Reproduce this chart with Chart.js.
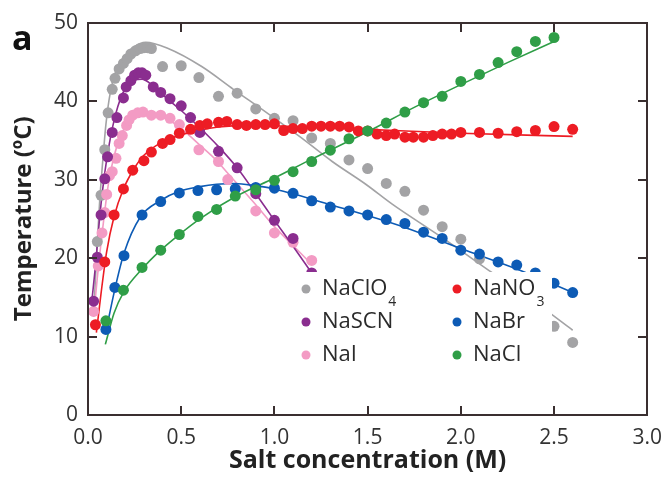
<!DOCTYPE html>
<html>
<head>
<meta charset="utf-8">
<script src="https://cdn.jsdelivr.net/npm/chart.js@4.4.0/dist/chart.umd.min.js"></script>
<style>
  html, body { margin: 0; padding: 0; background: #fff; }
  #wrap { width: 672px; height: 477px; position: relative; }
</style>
</head>
<body>
<div id="wrap"><canvas id="chart"></canvas></div>
<script>
// === Datos: [concentracion (M), temperatura (C)] ===
const xTicks = [0, 0.5, 1.0, 1.5, 2.0, 2.5, 3.0];
const yTicks = [0, 10, 20, 30, 40, 50];

const naclo4Pts = [[0.05,22.1],[0.07,28.0],[0.09,33.8],[0.108,38.5],[0.13,41.5],[0.145,42.9],[0.167,44.1],[0.19,44.8],
  [0.21,45.4],[0.23,46.0],[0.255,46.4],[0.28,46.7],[0.30,46.8],[0.32,46.8],[0.34,46.7],[0.40,44.4],[0.50,44.5],
  [0.595,43.0],[0.70,40.6],[0.80,41.0],[0.90,39.0],[1.0,37.8],[1.10,37.5],[1.20,35.3],[1.30,34.6],[1.40,32.5],
  [1.50,31.4],[1.60,29.5],[1.70,28.5],[1.80,26.1],[1.90,24.0],[2.0,22.4],[2.10,19.9],[2.50,11.3],[2.60,9.25]];
const naclo4Fit = [[0.035,15],[0.05,22],[0.062,27],[0.073,30.6],[0.084,33.8],[0.096,37],[0.119,41],[0.149,43.8],
  [0.193,45.6],[0.246,46.9],[0.31,47.5],[0.43,46.7],[0.61,44.4],[0.78,41.5],[0.96,38.5],[1.14,35.4],[1.31,32.3],
  [1.49,29.4],[1.63,26.9],[1.9,22.6],[2.17,18.1],[2.46,13.3],[2.6,10.8]];

const nascnPts = [[0.03,14.5],[0.05,20.1],[0.07,25.5],[0.09,30.1],[0.105,32.9],[0.13,36.0],[0.155,37.9],[0.19,40.4],
  [0.205,41.8],[0.23,42.6],[0.25,43.3],[0.27,43.6],[0.29,43.6],[0.31,43.3],[0.35,41.8],[0.39,41.1],[0.44,40.3],
  [0.50,39.4],[0.55,37.9],[0.60,36.0],[0.70,33.6],[0.80,31.5],[0.90,28.2],[1.0,24.8],[1.10,22.5],[1.20,18.1]];
const nascnFit = [[0.02,14.4],[0.04,19],[0.06,24.5],[0.08,29],[0.1,32.5],[0.13,36.5],[0.16,39.3],[0.2,41.6],
  [0.25,42.7],[0.29,42.8],[0.35,41.9],[0.42,40.4],[0.5,38.8],[0.6,36.6],[0.7,34.2],[0.8,31.5],[0.9,28.2],
  [1.0,24.8],[1.1,21.5],[1.2,18.1]];

const naiPts = [[0.03,13.2],[0.055,19.0],[0.075,23.2],[0.09,25.8],[0.10,28.1],[0.115,30.5],[0.13,31.0],[0.15,32.7],
  [0.167,34.6],[0.184,35.6],[0.207,36.9],[0.22,37.6],[0.24,38.2],[0.267,38.5],[0.295,38.6],[0.34,38.2],[0.39,38.2],
  [0.44,37.8],[0.49,37.0],[0.595,33.8],[0.70,32.3],[0.75,30.0],[0.90,26.0],[1.0,23.2],[1.10,22.0],[1.20,19.7]];
const naiFit = [[0.03,12.5],[0.05,17.5],[0.07,22],[0.09,26],[0.11,29.5],[0.14,33],[0.18,35.8],[0.246,38.1],
  [0.334,38.4],[0.44,37.5],[0.51,36.3],[0.6,34.4],[0.687,32.5],[0.75,30.8],[0.9,26.8],[1.0,24.0],[1.1,21.6],[1.2,19.2]];

const nano3Pts = [[0.04,11.5],[0.09,19.5],[0.14,25.5],[0.19,28.8],[0.24,31.2],[0.30,32.4],[0.34,33.5],[0.40,34.6],
  [0.44,35.1],[0.49,35.9],[0.55,36.4],[0.60,36.9],[0.64,37.1],[0.70,37.3],[0.745,37.4],[0.80,37.0],[0.85,36.9],
  [0.90,37.0],[0.95,37.0],[1.0,37.1],[1.05,36.25],[1.10,36.5],[1.15,36.5],[1.20,36.8],[1.25,36.8],[1.30,36.8],
  [1.35,36.8],[1.40,36.7],[1.45,36.2],[1.50,36.2],[1.55,35.8],[1.60,35.6],[1.645,35.8],[1.70,35.4],[1.745,35.4],
  [1.80,35.4],[1.85,35.6],[1.90,35.8],[1.95,35.8],[2.0,36.0],[2.10,36.0],[2.20,35.9],[2.30,36.1],[2.40,36.25],
  [2.50,36.75],[2.60,36.4]];
const nano3Fit = [[0.045,10.5],[0.07,15.5],[0.1,20.8],[0.14,25.3],[0.19,28.8],[0.25,31.5],[0.3,33.1],[0.4,34.8],
  [0.5,35.7],[0.6,36.3],[0.7,36.7],[0.85,36.9],[1.0,36.85],[1.5,36.4],[2.0,35.9],[2.6,35.5]];

const nabrPts = [[0.096,10.9],[0.144,16.25],[0.193,20.3],[0.29,25.5],[0.39,27.2],[0.49,28.3],[0.59,28.6],[0.69,28.7],
  [0.79,28.8],[0.90,29.0],[1.0,28.9],[1.10,28.25],[1.20,27.3],[1.30,26.5],[1.40,26.0],[1.50,25.5],[1.60,24.9],
  [1.70,24.4],[1.80,23.3],[1.90,22.5],[2.0,21.0],[2.10,20.5],[2.20,19.5],[2.30,19.1],[2.40,18.1],[2.50,16.8],[2.60,15.6]];
const nabrFit = [[0.096,10.6],[0.14,15.6],[0.193,20.6],[0.28,25.2],[0.387,27.3],[0.49,28.5],[0.6,29.1],[0.69,29.4],
  [0.79,29.5],[0.9,29.2],[1.0,28.8],[1.3,26.8],[1.7,23.9],[2.0,21.2],[2.3,18.6],[2.6,15.6]];

const naclPts = [[0.096,12.0],[0.19,15.9],[0.29,18.8],[0.39,21.0],[0.49,23.0],[0.59,25.3],[0.69,26.2],[0.79,27.9],
  [0.90,28.7],[1.0,29.9],[1.10,31.0],[1.20,32.3],[1.30,33.75],[1.40,35.2],[1.50,36.2],[1.60,37.2],[1.70,38.6],
  [1.80,39.8],[1.90,40.6],[2.0,42.5],[2.10,43.4],[2.20,44.9],[2.30,46.3],[2.40,47.6],[2.50,48.1]];
const naclFit = [[0.093,9.0],[0.14,13],[0.19,15.6],[0.29,18.6],[0.39,21.0],[0.49,23.0],[0.6,25.0],[0.79,27.8],
  [1.0,30.2],[1.2,32.6],[1.5,36.1],[1.75,39.2],[2.0,42.1],[2.25,44.9],[2.5,47.6]];

// Series: nombre, color, puntos, ajuste
const series = [
  { label: "NaCl",   sub: "",  color: "#2f9e47", pts: naclPts,   fit: naclFit },
  { label: "NaBr",   sub: "",  color: "#0d5bb5", pts: nabrPts,   fit: nabrFit },
  { label: "NaNO",   sub: "3", color: "#ed1c24", pts: nano3Pts,  fit: nano3Fit },
  { label: "NaSCN",  sub: "",  color: "#8a2d8f", pts: nascnPts,  fit: nascnFit },
  { label: "NaI",    sub: "",  color: "#f39bc4", pts: naiPts,    fit: naiFit },
  { label: "NaClO",  sub: "4", color: "#a3a3a5", pts: naclo4Pts, fit: naclo4Fit }
];
const legendOrder = ["NaClO", "NaSCN", "NaI", "NaNO", "NaBr", "NaCl"];

const toXY = arr => arr.map(p => ({ x: p[0], y: p[1] }));

const datasets = [];
series.forEach(s => {
  datasets.push({
    type: "scatter", label: s.label, data: toXY(s.pts),
    backgroundColor: s.color, borderColor: s.color, borderWidth: 0,
    pointRadius: 5.5, order: 0
  });
});
series.forEach(s => {
  datasets.push({
    type: "line", label: s.label + " fit", data: toXY(s.fit),
    borderColor: s.color, borderWidth: 1.6, pointRadius: 0,
    cubicInterpolationMode: "monotone", fill: false, order: 1
  });
});

// Marco, marcas hacia dentro, leyenda y letra del panel
const frameColor = "#3a2f30";
const framePlugin = {
  id: "frame",
  afterDraw(chart) {
    const ctx = chart.ctx;
    const a = chart.chartArea;
    const xs = chart.scales.x, ys = chart.scales.y;
    const L = Math.round(a.left), R = Math.round(a.right), T = Math.round(a.top), B = Math.round(a.bottom);
    ctx.save();
    ctx.fillStyle = frameColor;
    ctx.fillRect(L - 1, T - 1, R - L + 2, 2);   // arriba
    ctx.fillRect(L - 1, B - 1, R - L + 2, 2);   // abajo
    ctx.fillRect(L - 1, T - 1, 2, B - T + 2);   // izquierda
    ctx.fillRect(R - 1, T - 1, 2, B - T + 2);   // derecha
    xTicks.slice(1, -1).forEach(v => {
      const px = Math.round(xs.getPixelForValue(v));
      ctx.fillRect(px - 1, B - 9, 2, 9);
      ctx.fillRect(px - 1, T, 2, 9);
    });
    yTicks.slice(1, -1).forEach(v => {
      const py = Math.round(ys.getPixelForValue(v));
      ctx.fillRect(L, py - 1, 9, 2);
      ctx.fillRect(R - 9, py - 1, 9, 2);
    });

    // leyenda con fondo blanco
    ctx.fillStyle = "#fff";
    ctx.fillRect(291, 272, 261, 100);
    legendOrder.forEach((name, i) => {
      const s = series.find(d => d.label === name);
      const col = Math.floor(i / 3), row = i % 3;
      const mx = 306 + col * 151, my = 289 + row * 33;
      ctx.fillStyle = s.color;
      ctx.beginPath(); ctx.arc(mx, my, 4.5, 0, Math.PI * 2); ctx.fill();
      ctx.fillStyle = "#2b2b2b";
      ctx.font = "22px 'Open Sans', sans-serif";
      ctx.textBaseline = "middle";
      ctx.textAlign = "left";
      ctx.fillText(s.label, mx + 16, my);
      if (s.sub) {
        const w = ctx.measureText(s.label).width;
        ctx.font = "14px 'Open Sans', sans-serif";
        ctx.fillText(s.sub, mx + 17 + w, my + 13);
      }
    });

    ctx.fillStyle = "#111";
    ctx.font = "bold 34px 'Open Sans', sans-serif";
    ctx.textBaseline = "middle";
    ctx.textAlign = "left";
    ctx.fillText("a", 12, 40);
    ctx.restore();
  }
};

Chart.defaults.font.family = "'Open Sans', sans-serif";
Chart.defaults.color = "#333";

new Chart(document.getElementById("chart"), {
  type: "scatter",
  data: { datasets },
  options: {
    responsive: true,
    maintainAspectRatio: false,
    animation: false,
    layout: { padding: { top: 15, right: 16, left: 0, bottom: 0 } },
    plugins: { legend: { display: false }, tooltip: { enabled: false } },
    scales: {
      x: {
        type: "linear", min: 0, max: 3,
        afterFit: s => { s.height = 62; },
        afterBuildTicks: s => { s.ticks = xTicks.map(v => ({ value: v })); },
        grid: { display: false, drawTicks: false },
        border: { display: false },
        ticks: { padding: 10, font: { size: 21 }, color: "#333", callback: v => Number(v).toFixed(1) },
        title: { display: true, text: "Salt concentration (M)", color: "#222",
                 font: { size: 25, weight: "bold" }, padding: { top: 0, bottom: 1 } }
      },
      y: {
        type: "linear", min: 0, max: 50,
        afterFit: s => { s.width = 88; },
        afterBuildTicks: s => { s.ticks = yTicks.map(v => ({ value: v })); },
        grid: { display: false, drawTicks: false },
        border: { display: false },
        ticks: { padding: 10, font: { size: 21 }, color: "#333" },
        title: { display: true, text: "Temperature (ºC)", color: "#222",
                 font: { size: 24, weight: "bold" }, padding: { top: 10, bottom: 0 } }
      }
    }
  },
  plugins: [framePlugin]
});
</script>
</body>
</html>
